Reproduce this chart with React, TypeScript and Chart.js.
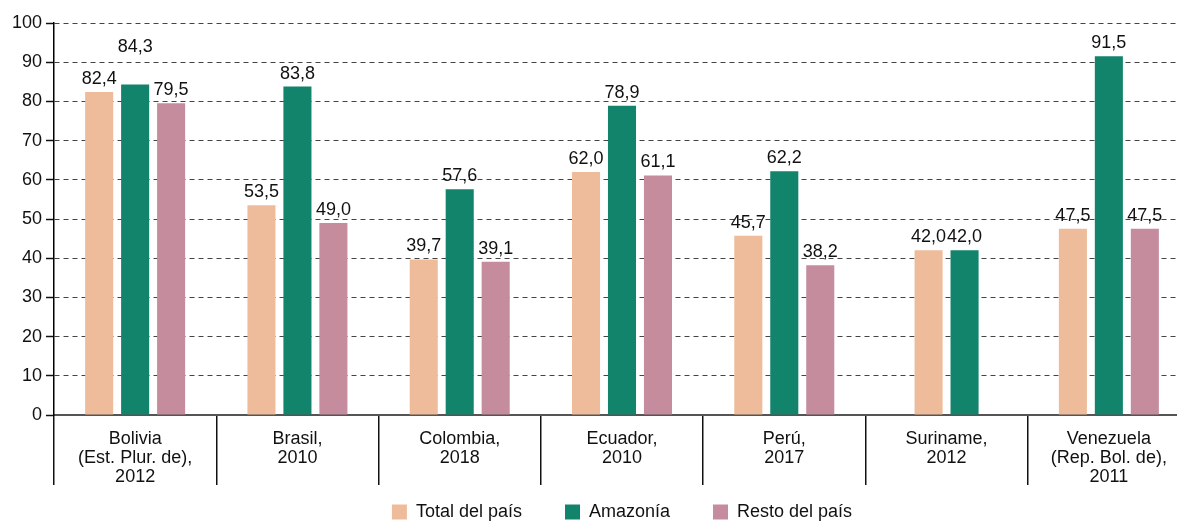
import React, { useEffect, useRef } from 'react';
import { Chart, registerables } from 'chart.js';

Chart.register(...registerables);

const categories: string[][] = [
  ['Bolivia', '(Est. Plur. de),', '2012'],
  ['Brasil,', '2010'],
  ['Colombia,', '2018'],
  ['Ecuador,', '2010'],
  ['Perú,', '2017'],
  ['Suriname,', '2012'],
  ['Venezuela', '(Rep. Bol. de),', '2011'],
];
const totalPais: (number | null)[] = [82.4, 53.5, 39.7, 62.0, 45.7, 42.0, 47.5];
const amazonia: (number | null)[] = [84.3, 83.8, 57.6, 78.9, 62.2, 42.0, 91.5];
const restoPais: (number | null)[] = [79.5, 49.0, 39.1, 61.1, 38.2, null, 47.5];
const seriesNames = ['Total del país', 'Amazonía', 'Resto del país'];
const seriesColors = ['#EEBC9A', '#12846B', '#C48C9D'];
const yMin = 0;
const yMax = 100;
const yStep = 10;
// value labels lifted above their neighbours: [datasetIndex, categoryIndex]
const raisedLabels: number[][] = [[1, 0]];

const FONT = 'Liberation Sans, Arial, Helvetica, sans-serif';

const recenterPlugin = {
  id: 'recenterMissing',
  afterLayout(chart: any) {
    // let the multi-line category labels extend below the (short) x-axis box
    const x = chart.scales.x;
    if (x) x.bottom = x.top + 80;
  },
  afterDatasetsUpdate(chart: any) {
    const ds = chart.data.datasets;
    const metas = ds.map((_: any, i: number) => chart.getDatasetMeta(i));
    for (let j = 0; j < categories.length; j++) {
      const all: number[] = [];
      const present: any[] = [];
      metas.forEach((m: any, i: number) => {
        const el = m.data[j];
        if (!el) return;
        all.push(el.x);
        if (ds[i].data[j] !== null && ds[i].data[j] !== undefined) present.push(el);
      });
      if (present.length && present.length < all.length) {
        const mAll = all.reduce((a, b) => a + b, 0) / all.length;
        const mP = present.reduce((a, e) => a + e.x, 0) / present.length;
        const d = mAll - mP;
        present.forEach((e) => {
          e.x += d;
        });
      }
    }
  },
};

const valueLabelPlugin = {
  id: 'valueLabels',
  afterDatasetsDraw(chart: any) {
    const ctx = chart.ctx;
    ctx.save();
    ctx.font = `18px ${FONT}`;
    ctx.fillStyle = '#111';
    ctx.textAlign = 'center';
    ctx.textBaseline = 'alphabetic';
    chart.data.datasets.forEach((d: any, i: number) => {
      const meta = chart.getDatasetMeta(i);
      meta.data.forEach((el: any, j: number) => {
        const v = d.data[j];
        if (v === null || v === undefined) return;
        const raised = raisedLabels.some((r) => r[0] === i && r[1] === j);
        const txt = v.toFixed(1).replace('.', ',');
        ctx.fillText(txt, el.x, el.y - 8 - (raised ? 25 : 0));
      });
    });
    ctx.restore();
  },
};

export default function App() {
  const ref = useRef<HTMLCanvasElement>(null);
  useEffect(() => {
    if (!ref.current) return;
    const seriesData = [totalPais, amazonia, restoPais];
    const chart = new Chart(ref.current, {
      type: 'bar',
      data: {
        labels: categories,
        datasets: seriesData.map((d, i) => ({
          label: seriesNames[i],
          data: d,
          backgroundColor: seriesColors[i],
          borderWidth: 0,
          categoryPercentage: 0.665,
          barPercentage: 0.78,
        })),
      },
      options: {
        responsive: false,
        animation: false,
        devicePixelRatio: 1,
        layout: { padding: { top: 23, right: 10, left: 0, bottom: 0 } },
        plugins: {
          tooltip: { enabled: false },
          legend: {
            position: 'bottom',
            fullSize: false,
            labels: {
              boxWidth: 15,
              boxHeight: 15,
              padding: 43,
              color: '#111',
              font: { family: FONT, size: 18 },
            },
          },
        },
        scales: {
          x: {
            offset: true,
            grid: {
              offset: true,
              drawOnChartArea: false,
              drawTicks: true,
              tickLength: 70,
              color: '#111',
              tickColor: '#111',
              lineWidth: 1.5,
            },
            border: { display: true, color: '#555', width: 2 },
            ticks: {
              padding: -55,
              autoSkip: false,
              maxRotation: 0,
              color: '#111',
              font: { family: FONT, size: 18, lineHeight: 19 / 18 },
            },
            afterFit: (s: any) => {
              s.height = 45;
            },
          },
          y: {
            min: yMin,
            max: yMax,
            ticks: {
              stepSize: yStep,
              padding: 4,
              color: '#111',
              font: { family: FONT, size: 18 },
            },
            grid: {
              color: (c: any) => (c.tick && c.tick.value === 0 ? '#555' : '#444'),
              lineWidth: 1,
              tickLength: 8,
              tickColor: '#111',
              tickWidth: 1.5,
            },
            border: {
              display: true,
              color: '#000',
              width: 1.5,
              dash: (c: any) => (c.tick && c.tick.value === 0 ? [] : [5, 4]),
            },
            afterFit: (s: any) => {
              s.width = 54;
            },
          },
        },
      },
      plugins: [recenterPlugin, valueLabelPlugin],
    } as any);
    return () => chart.destroy();
  }, []);
  return (
    <div
      style={{
        position: 'absolute',
        left: 0,
        top: 0,
        width: 1177,
        height: 521,
        overflow: 'hidden',
        background: '#fff',
      }}
    >
      <canvas ref={ref} width={1200} height={531} style={{ display: 'block' }} />
    </div>
  );
}
